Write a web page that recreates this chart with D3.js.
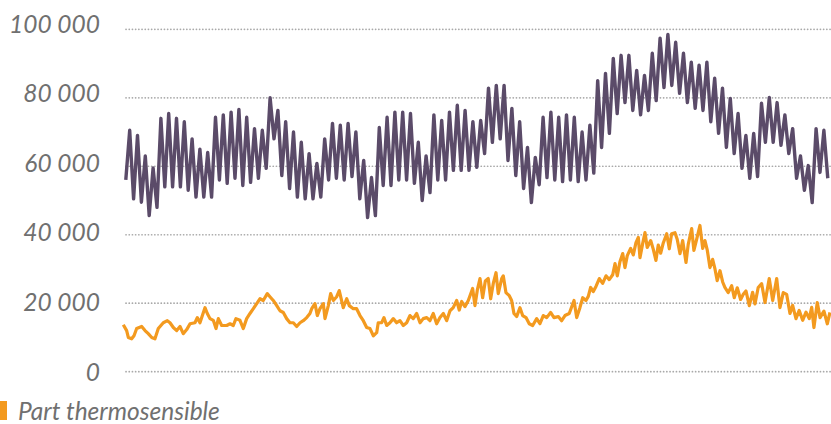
<!DOCTYPE html>
<html>
<head>
<meta charset="utf-8">
<script src="https://cdn.jsdelivr.net/npm/d3@7"></script>
<style>
  body { margin: 0; background: #fff; }
  svg { display: block; }
  .tick-label { font-family: Lato, "Open Sans", sans-serif; font-style: italic; font-size: 24.5px; fill: #707070; }
  .legend-label { font-family: Lato, "Open Sans", sans-serif; font-style: italic; font-size: 24.5px; fill: #707070; }
</style>
</head>
<body>
<div id="chart"></div>
<script>
// y axis ticks
var yTicks = [0, 20000, 40000, 60000, 80000, 100000];
var yTickLabels = ["0", "20 000", "40 000", "60 000", "80 000", "100 000"];

// total consumption: weekly highs and lows
var purpleStart = 56000;
var purplePeaks = [
  70500, 69000, 63000, 59500, 74000, 75400, 74000, 73000, 68000, 65000,
  64000, 74300, 75000, 75800, 76600, 74300, 71000, 70500, 80000, 76300,
  73000, 70000, 67000, 63700, 60800, 68000, 72500, 72000, 72500, 70000,
  61700, 56700, 71300, 74300, 75800, 75800, 75400, 67000, 63000, 75000,
  73400, 75800, 77800, 76300, 73000, 73400, 82800, 83600, 83600, 76900,
  73000, 65500, 62600, 74300, 75800, 74300, 75000, 74300, 70000, 72000,
  85000, 87100, 91500, 92400, 92400, 88000, 86500, 93000, 97400, 98500,
  96200, 93000, 90400, 89500, 90400, 85700, 82800, 79800, 75400, 69000,
  69600, 78400, 80100, 78600, 75000, 71000, 63000, 60200, 71000, 70500
];
var purpleTroughs = [
  50500, 49500, 45600, 48000, 54000, 54000, 54000, 53000, 51000, 51000,
  51000, 56000, 55000, 56500, 54400, 55300, 56500, 59400, 68000, 57300,
  53500, 51000, 50500, 50500, 51000, 56000, 56500, 56000, 57000, 50500,
  45000, 45600, 54400, 54400, 56000, 56000, 55000, 50000, 52300, 56000,
  56000, 58800, 58800, 58800, 59700, 63700, 67000, 68000, 61700, 57300,
  53500, 49400, 54600, 56700, 56000, 55500, 56000, 55500, 56000, 58000,
  65500, 69600, 75400, 78600, 76300, 75000, 76300, 79200, 83000, 83600,
  81300, 78600, 76900, 76300, 73000, 69600, 65500, 63700, 59400, 56500,
  57000, 67000, 67000, 66100, 63700, 56500, 53000, 49400, 58200, 56500
];

// thermosensitive part: day number and value
var orangeDays = [
  0, 3, 4.5, 7.5, 9.6, 12, 16.5, 19.5, 22.4, 25.5, 28.4, 31.4, 35.9, 39.5, 41.9, 44.9, 47.9, 50.9, 53.8, 56.9,
  59.9, 64.3, 66.4, 68.8, 73.3, 75.4, 77.8, 80.8, 83.2, 85.3, 88.3, 92.8, 95.8, 98.7, 101.1, 104.7, 107.7, 110.7, 113.7, 116.7,
  119.7, 122.7, 125.6, 129.2, 131.6, 134.6, 137.7, 140.6, 143.6, 146.6, 149.6, 152.6, 155.6, 158.6, 161.5, 164.6, 167.5, 169.1, 172, 174.1,
  176.5, 179.5, 181, 184, 186.1, 188.5, 191.5, 193.8, 197.4, 200.5, 202.8, 206.4, 209.4, 212.4, 215.4, 218.4, 221.4, 224.4, 227.4, 228.8,
  231.9, 233.9, 236.4, 239.3, 242.3, 245.3, 248.3, 251.3, 254.3, 257.3, 260.2, 263.3, 266.3, 269.2, 272.3, 275.2, 278.2, 281.2, 284.2, 287.2,
  290.2, 293.2, 296.1, 299.2, 301.5, 303.7, 306.6, 309.6, 313.5, 315.6, 317.7, 320.1, 322.5, 324.9, 327.5, 329.7, 332, 334.5, 336.5, 339.6,
  341, 343.4, 346.4, 348.5, 350.6, 353, 356, 358.4, 361.4, 364.3, 367.4, 371, 373.9, 376.9, 380, 383.5, 386.5, 390.4, 393.4, 396.4,
  400.2, 404.5, 406.9, 409.8, 412.3, 415.2, 417.3, 419.4, 421.8, 424.2, 427.2, 430.2, 433.2, 436.1, 439.2, 441.3, 443.3, 445.7, 448.2, 450.2,
  452.3, 455.3, 457.7, 460.1, 462.2, 463.7, 466.1, 468.2, 470.2, 473.3, 475.6, 478, 480.1, 482.3, 484.6, 487.7, 490, 492.1, 495.1, 497.1,
  499.6, 502, 505, 507, 510.1, 512.1, 514.6, 517.5, 520, 522, 524.1, 526.5, 528.9, 531, 533, 535.5, 537.9, 539.9, 542.9, 546,
  548.3, 551, 554, 556.4, 558.8, 561.8, 564.8, 566.9, 569.8, 572.9, 575.9, 579.7, 582.8, 586.4, 589.3, 592.3, 595.3, 598.3, 600.7, 603.7,
  606.6, 609.7, 612.7, 615.6, 617.8, 619.8, 622.8, 625.3, 628.8, 631.8, 634.2
];
var orangeValues = [
  13700, 12000, 10000, 9600, 10500, 12600, 13200, 12000, 11100, 10000, 9600, 12600, 14300, 14900, 14300, 12900, 12000, 13200, 11100, 12300,
  14000, 14300, 15800, 14300, 18700, 17000, 15500, 15000, 12600, 15500, 13500, 13500, 14000, 13500, 15500, 15000, 12600, 15500, 17000, 18400,
  19900, 21300, 20800, 22800, 21900, 20800, 19300, 17800, 17300, 15500, 14300, 14300, 13200, 14300, 14900, 15800, 17000, 18400, 19900, 16400,
  18400, 19900, 15500, 19300, 22800, 20800, 21900, 23700, 18700, 21300, 19300, 18400, 18400, 16400, 14900, 12900, 12600, 10500, 11400, 14300,
  14300, 15800, 13500, 14300, 15500, 14300, 14900, 13500, 14300, 16400, 15500, 17000, 14300, 15500, 15800, 14900, 17000, 14000, 15800, 17000,
  14900, 17800, 18700, 20800, 18000, 20500, 19000, 20800, 24300, 19300, 23800, 27200, 21600, 26500, 27200, 21300, 25700, 28900, 22800, 27200,
  28000, 23100, 22200, 20800, 17000, 16100, 18700, 16400, 15800, 14000, 13500, 15500, 14000, 16400, 15800, 17300, 15800, 16100, 14900, 16400,
  17000, 20800, 15800, 18700, 21600, 20800, 22000, 24600, 23400, 24900, 27200, 25800, 28000, 26900, 28300, 31600, 28000, 32100, 34500, 30400,
  33900, 36000, 34100, 37700, 39200, 33300, 37400, 40600, 36300, 38300, 35800, 32500, 37000, 34600, 37600, 40300, 35900, 40300, 40600, 38700,
  34500, 38300, 31900, 37200, 41800, 35400, 38700, 42700, 36000, 38300, 35500, 30400, 32800, 30000, 26600, 29500, 26200, 24600, 23100, 25100,
  21600, 24500, 21100, 22600, 23600, 19300, 23200, 19800, 24600, 25700, 20200, 27200, 20800, 27200, 18700, 23100, 22600, 17000, 19400, 15500,
  17900, 15000, 17400, 15500, 18800, 12900, 20200, 15800, 17700, 14000, 17300
];

var width = 831;
var height = 424;

var svg = d3.select("#chart")
  .append("svg")
  .attr("width", width)
  .attr("height", height);

var x = d3.scaleLinear().domain([0, 634.5]).range([123.3, 830.3]);
var y = d3.scaleLinear().domain([0, 100000]).range([371.7, 29.3]);
// labels sit a little higher than their lines, more so at the top
var yLabel = d3.scaleLinear().domain([0, 100000]).range([372, 24]);

// gridlines
svg.append("g")
  .selectAll("line")
  .data(yTicks)
  .enter()
  .append("line")
  .attr("x1", 126)
  .attr("x2", width)
  .attr("y1", function(d) { return y(d); })
  .attr("y2", function(d) { return y(d); })
  .attr("stroke", "#a9a9a9")
  .attr("stroke-width", 1.7)
  .attr("stroke-linecap", "round")
  .attr("stroke-dasharray", "0.1 3.1");

svg.append("g")
  .selectAll("text")
  .data(yTicks)
  .enter()
  .append("text")
  .attr("class", "tick-label")
  .attr("x", 100)
  .attr("y", function(d) { return yLabel(d); })
  .attr("dy", "0.35em")
  .attr("text-anchor", "end")
  .text(function(d, i) { return yTickLabels[i]; });

// build the purple series: start, then peak / trough for every week
var purple = [purpleStart];
purplePeaks.forEach(function(p, i) {
  purple.push(p);
  purple.push(purpleTroughs[i]);
});
var purpleData = purple.map(function(v, i) { return [2.24 + 3.5 * i, v]; });
var orangeData = orangeDays.map(function(d, i) { return [d, orangeValues[i]]; });

var line = d3.line()
  .x(function(d) { return x(d[0]); })
  .y(function(d) { return y(d[1]); });

svg.append("path")
  .datum(orangeData)
  .attr("fill", "none")
  .attr("stroke", "#f39a1f")
  .attr("stroke-width", 3.2)
  .attr("stroke-linejoin", "round")
  .attr("d", line);

svg.append("path")
  .datum(purpleData)
  .attr("fill", "none")
  .attr("stroke", "#5b4b69")
  .attr("stroke-width", 3.4)
  .attr("stroke-linejoin", "round")
  .attr("d", line);

// legend
var legend = svg.append("g");
legend.append("rect")
  .attr("x", 0)
  .attr("y", 401)
  .attr("width", 7)
  .attr("height", 19)
  .attr("fill", "#f39a1f");
legend.append("text")
  .attr("class", "legend-label")
  .attr("x", 18)
  .attr("y", 420)
  .text("Part thermosensible");
</script>
</body>
</html>
